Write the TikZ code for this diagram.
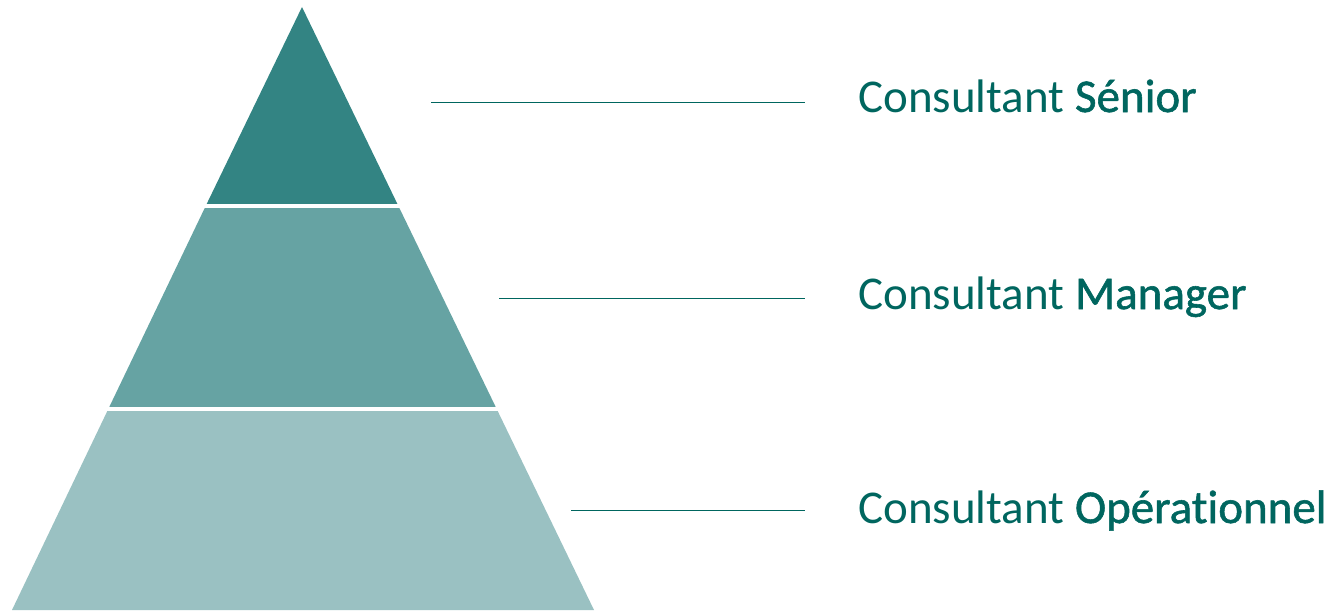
\documentclass[tikz,border=0pt]{standalone}
\usepackage{fontspec}
\setmainfont{Carlito}[Ligatures=NoCommon]
\usepackage{tikz}
\usetikzlibrary{positioning}
\definecolor{tealtop}{HTML}{338483}
\definecolor{tealmid}{HTML}{66A3A3}
\definecolor{tealbot}{HTML}{9AC1C2}
\definecolor{tealtext}{HTML}{00665F}
\newcommand{\grade}[1]{Consultant {\addfontfeatures{FakeBold=1.2}#1}}

\begin{document}
\begin{tikzpicture}[x=1pt, y=-1pt, semithick]
        \tikzset{
           gap/.style={
                        draw=white,
                        line width=4pt
                       },
           label/.style={
                        anchor=base west,
                        inner sep=0pt,
                        text=tealtext,
                        font=\fontsize{47}{56}\selectfont
                       },
           tick/.style={
                        draw=tealtext,
                        line width=1pt
                       },
                 };
        \useasboundingbox (0,0) rectangle (1335,610);
    %--------------------
        \coordinate (apex) at (302,7);
        \coordinate (aL) at (205.7,206);
        \coordinate (aR) at (398.4,206);
        \coordinate (bL) at (108.3,409);
        \coordinate (bR) at (496.7,409);
        \coordinate (baseL) at (12,610);
        \coordinate (baseR) at (594,610);

        \fill[tealtop] (apex) -- (aR) -- (aL) -- cycle;
        \fill[tealmid] (aL) -- (aR) -- (bR) -- (bL) -- cycle;
        \fill[tealbot] (bL) -- (bR) -- (baseR) -- (baseL) -- cycle;
        \draw[gap] ([xshift=-5pt]aL) -- ([xshift=5pt]aR);
        \draw[gap] ([xshift=-5pt]bL) -- ([xshift=5pt]bR);
    %--------------------
        \node[label]     (senior)       at (858,112)       {\grade{Sénior}};
        \node[label]     (manager)      at (858,309)       {\grade{Manager}};
        \node[label]     (operationnel) at (858,523)       {\grade{Opérationnel}};

        \coordinate      (seniorL)       at (431,102);
        \coordinate      (managerL)      at (499,298);
        \coordinate      (operationnelL) at (571,510);
        \coordinate      (seniorR)       at (805,102);
        \coordinate      (managerR)      at (805,298);
        \coordinate      (operationnelR) at (805,510);
    %--------------------
        \path (seniorL)       edge[tick] (seniorR)
              (managerL)      edge[tick] (managerR)
              (operationnelL) edge[tick] (operationnelR)
        ;
    \end{tikzpicture}
\end{document}
